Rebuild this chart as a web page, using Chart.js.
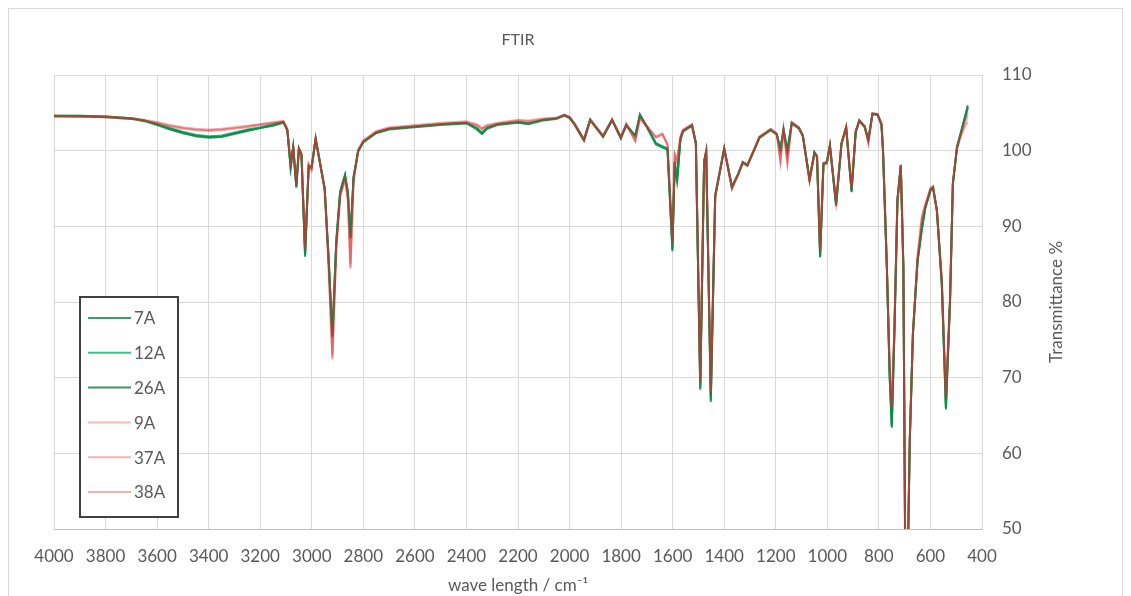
<!DOCTYPE html>
<html>
<head>
<meta charset="utf-8">
<title>FTIR</title>
<script src="https://cdn.jsdelivr.net/npm/chart.js@4.4.1/dist/chart.umd.min.js"></script>
<style>
  html, body { margin: 0; padding: 0; background: #ffffff; }
  #wrap { width: 1131px; height: 596px; }
</style>
</head>
<body>
<div id="wrap"><canvas id="ftirChart" width="1131" height="596"></canvas></div>
<script>
// wavenumbers (cm-1), shared by every sample
const wavenumber = [
  4000, 3900, 3800, 3700, 3650, 3600, 3550, 3500, 3450, 3400,
  3350, 3300, 3250, 3200, 3150, 3110, 3095, 3082, 3072, 3060,
  3050, 3040, 3026, 3012, 3001, 2985, 2950, 2935, 2920, 2905,
  2890, 2871, 2860, 2850, 2838, 2820, 2800, 2750, 2700, 2600,
  2500, 2400, 2360, 2340, 2320, 2280, 2200, 2160, 2100, 2050,
  2020, 2000, 1980, 1944, 1920, 1870, 1835, 1801, 1780, 1745,
  1727, 1700, 1665, 1640, 1620, 1601, 1592, 1583, 1570, 1560,
  1525, 1510, 1493, 1478, 1470, 1452, 1435, 1400, 1370, 1345,
  1328, 1310, 1263, 1220, 1196, 1182, 1170, 1155, 1138, 1110,
  1095, 1069, 1050, 1040, 1028, 1015, 1002, 990, 966, 945,
  927, 906, 890, 876, 855, 841, 825, 805, 790, 784,
  769, 758, 750, 740, 728, 715, 705, 697, 690, 680,
  668, 650, 633, 620, 600, 590, 575, 556, 540, 524,
  513, 497, 485, 466, 455
];

// transmittance (%) per sample
const t7A = [
  104.6, 104.6, 104.5, 104.3, 104.0, 103.5, 102.9, 102.4, 102.0, 101.8,
  101.9, 102.3, 102.7, 103.0, 103.4, 103.8, 102.8, 97.8, 100.5, 95.2,
  100.3, 99.5, 86.2, 98.0, 97.8, 101.6, 95.0, 86.0, 75.5, 88.0,
  94.5, 96.8, 94.5, 88.5, 96.5, 100.0, 101.2, 102.4, 102.9, 103.2,
  103.5, 103.7, 103.0, 102.3, 103.0, 103.5, 103.8, 103.6, 104.1, 104.3,
  104.7, 104.4, 103.5, 101.4, 104.1, 101.9, 104.1, 101.7, 103.4, 102.0,
  104.7, 103.2, 101.0, 100.6, 100.3, 86.9, 98.5, 96.0, 101.5, 102.6,
  103.4, 101.0, 68.6, 98.6, 99.9, 67.0, 94.0, 100.3, 95.2, 97.0,
  98.5, 98.1, 101.8, 102.8, 102.2, 100.2, 102.8, 100.0, 103.7, 103.0,
  102.0, 96.2, 99.8, 99.3, 86.0, 98.3, 98.5, 100.7, 92.8, 101.0,
  103.1, 94.6, 102.5, 104.0, 103.2, 101.5, 104.9, 104.8, 103.5, 100.0,
  84.6, 70.0, 63.6, 75.8, 93.5, 98.1, 84.6, 42.0, 42.0, 62.0,
  75.8, 85.5, 89.8, 92.5, 94.8, 95.2, 92.1, 82.5, 66.0, 80.2,
  95.7, 100.5, 102.0, 104.4, 105.8
];
const t12A = [
  104.6, 104.6, 104.5, 104.3, 104.0, 103.5, 103.0, 102.5, 102.1, 101.9,
  102.0, 102.4, 102.8, 103.1, 103.5, 103.8, 102.8, 97.9, 100.5, 95.3,
  100.3, 99.5, 86.4, 98.0, 97.8, 101.6, 95.0, 86.2, 75.8, 88.2,
  94.6, 96.8, 94.6, 88.8, 96.5, 100.0, 101.2, 102.4, 102.9, 103.2,
  103.5, 103.7, 103.0, 102.4, 103.0, 103.5, 103.8, 103.6, 104.1, 104.3,
  104.6, 104.4, 103.5, 101.5, 104.1, 102.0, 104.1, 101.8, 103.4, 102.0,
  104.6, 103.2, 100.9, 100.5, 100.2, 87.3, 98.6, 96.3, 101.5, 102.6,
  103.4, 101.0, 69.0, 98.6, 99.9, 67.4, 94.1, 100.3, 95.3, 97.0,
  98.5, 98.1, 101.8, 102.8, 102.2, 100.2, 102.8, 100.0, 103.7, 103.0,
  102.0, 96.3, 99.8, 99.3, 86.3, 98.3, 98.5, 100.7, 92.9, 101.0,
  103.1, 94.7, 102.5, 104.0, 103.2, 101.5, 104.9, 104.8, 103.5, 100.0,
  84.6, 70.3, 64.0, 75.8, 93.5, 98.1, 84.6, 42.0, 42.0, 62.0,
  75.8, 85.5, 89.9, 92.5, 94.8, 95.2, 92.1, 82.5, 66.3, 80.2,
  95.7, 100.5, 102.0, 104.3, 105.6
];
const t26A = [
  104.5, 104.5, 104.4, 104.2, 103.9, 103.4, 102.8, 102.3, 101.9, 101.7,
  101.8, 102.2, 102.6, 103.0, 103.3, 103.7, 102.7, 97.7, 100.4, 95.1,
  100.2, 99.4, 86.0, 97.9, 97.7, 101.5, 94.9, 85.8, 75.3, 87.8,
  94.4, 96.7, 94.4, 88.4, 96.4, 99.9, 101.1, 102.3, 102.8, 103.1,
  103.4, 103.6, 102.8, 102.2, 102.9, 103.4, 103.7, 103.5, 104.0, 104.2,
  104.7, 104.3, 103.4, 101.3, 104.0, 101.8, 104.0, 101.6, 103.3, 101.9,
  104.8, 103.1, 100.8, 100.4, 100.1, 86.7, 98.4, 95.8, 101.4, 102.5,
  103.3, 100.9, 68.4, 98.5, 99.8, 66.8, 93.9, 100.2, 95.1, 96.9,
  98.4, 98.0, 101.7, 102.7, 102.1, 100.1, 102.7, 99.9, 103.6, 102.9,
  101.9, 96.1, 99.7, 99.2, 85.9, 98.2, 98.4, 100.6, 92.7, 100.9,
  103.0, 94.5, 102.4, 103.9, 103.1, 101.4, 104.8, 104.7, 103.4, 99.9,
  84.5, 69.8, 63.4, 75.6, 93.4, 98.0, 84.5, 42.0, 42.0, 62.0,
  75.7, 85.3, 89.6, 92.4, 94.7, 95.1, 92.0, 82.3, 65.8, 80.0,
  95.6, 100.4, 101.9, 104.5, 106.0
];
const t9A = [
  104.6, 104.5, 104.5, 104.3, 104.0, 103.7, 103.3, 103.0, 102.8, 102.7,
  102.8, 103.0, 103.2, 103.5, 103.7, 103.9, 102.8, 98.5, 100.5, 95.5,
  100.3, 99.5, 87.0, 98.2, 97.5, 101.6, 95.0, 85.0, 72.6, 87.0,
  94.0, 96.3, 93.5, 84.6, 96.0, 100.0, 101.3, 102.5, 103.0, 103.3,
  103.6, 103.8, 103.4, 102.9, 103.3, 103.6, 104.0, 103.9, 104.2, 104.3,
  104.7, 104.4, 103.5, 101.4, 104.1, 101.9, 104.1, 101.7, 103.5, 101.3,
  104.3, 103.2, 101.8, 102.2, 100.8, 88.0, 99.5, 98.6, 101.8, 102.7,
  103.4, 101.0, 69.5, 98.6, 99.9, 68.1, 94.0, 100.3, 95.0, 97.0,
  98.4, 98.1, 101.8, 102.8, 102.2, 98.6, 102.8, 98.4, 103.7, 103.0,
  102.0, 96.0, 99.6, 99.2, 86.8, 98.3, 98.3, 100.7, 93.3, 101.0,
  103.1, 95.0, 102.5, 104.0, 103.2, 101.0, 104.9, 104.8, 103.5, 100.0,
  84.6, 71.0, 66.0, 76.5, 93.5, 98.1, 84.6, 42.0, 42.0, 62.0,
  75.8, 86.0, 91.2, 92.8, 95.0, 95.2, 92.1, 83.0, 67.5, 80.5,
  95.7, 100.3, 101.8, 103.5, 104.6
];
const t37A = [
  104.6, 104.5, 104.5, 104.3, 104.1, 103.8, 103.4, 103.1, 102.9, 102.8,
  102.9, 103.1, 103.3, 103.5, 103.8, 103.9, 102.9, 98.6, 100.6, 95.7,
  100.4, 99.6, 87.2, 98.3, 97.6, 101.7, 95.1, 85.3, 73.0, 87.3,
  94.1, 96.4, 93.7, 85.0, 96.1, 100.1, 101.4, 102.6, 103.1, 103.4,
  103.7, 103.9, 103.5, 103.0, 103.4, 103.7, 104.1, 104.0, 104.3, 104.4,
  104.8, 104.5, 103.6, 101.5, 104.2, 102.0, 104.2, 101.8, 103.6, 101.4,
  104.4, 103.3, 101.9, 102.3, 100.9, 88.3, 99.6, 98.8, 101.9, 102.8,
  103.5, 101.1, 69.8, 98.7, 100.0, 68.4, 94.2, 100.4, 95.1, 97.1,
  98.5, 98.2, 101.9, 102.9, 102.3, 98.8, 102.9, 98.6, 103.8, 103.1,
  102.1, 96.2, 99.7, 99.3, 87.0, 98.4, 98.4, 100.8, 93.5, 101.1,
  103.2, 95.2, 102.6, 104.1, 103.3, 101.2, 105.0, 104.9, 103.6, 100.1,
  84.7, 71.3, 66.4, 76.8, 93.6, 98.2, 84.7, 42.0, 42.0, 62.0,
  75.9, 86.1, 91.4, 92.9, 95.1, 95.3, 92.2, 83.2, 67.8, 80.7,
  95.8, 100.2, 101.6, 103.2, 103.8
];
const t38A = [
  104.5, 104.5, 104.4, 104.2, 104.0, 103.6, 103.2, 102.9, 102.7, 102.6,
  102.7, 102.9, 103.1, 103.4, 103.6, 103.8, 102.7, 98.4, 100.4, 95.4,
  100.2, 99.4, 86.9, 98.1, 97.4, 101.5, 94.9, 84.8, 72.4, 86.8,
  93.9, 96.2, 93.4, 84.4, 95.9, 99.9, 101.2, 102.4, 102.9, 103.2,
  103.5, 103.7, 103.3, 102.8, 103.2, 103.5, 103.9, 103.8, 104.1, 104.2,
  104.6, 104.3, 103.4, 101.3, 104.0, 101.8, 104.0, 101.6, 103.4, 101.2,
  104.2, 103.1, 101.7, 102.1, 100.7, 87.8, 99.4, 98.4, 101.7, 102.6,
  103.3, 100.9, 69.3, 98.5, 99.8, 67.9, 93.9, 100.2, 94.9, 96.9,
  98.3, 98.0, 101.7, 102.7, 102.1, 98.5, 102.7, 98.3, 103.6, 102.9,
  101.9, 95.9, 99.5, 99.1, 86.6, 98.2, 98.2, 100.6, 93.2, 100.9,
  103.0, 94.9, 102.4, 103.9, 103.1, 100.9, 104.8, 104.7, 103.4, 99.9,
  84.5, 70.8, 65.8, 76.3, 93.4, 98.0, 84.5, 42.0, 42.0, 62.0,
  75.7, 85.9, 91.0, 92.7, 94.9, 95.1, 92.0, 82.8, 67.2, 80.3,
  95.6, 100.4, 101.9, 104.0, 105.0
];

const sampleNames = ["7A", "12A", "26A", "9A", "37A", "38A"];
const sampleValues = [t7A, t12A, t26A, t9A, t37A, t38A];
const sampleColors = [
  "rgba(0, 140, 70, 0.8)",
  "rgba(0, 170, 100, 0.75)",
  "rgba(20, 120, 60, 0.8)",
  "rgba(235, 50, 60, 0.34)",
  "rgba(215, 35, 35, 0.34)",
  "rgba(195, 35, 30, 0.34)"
];

const xTickValues = [4000, 3800, 3600, 3400, 3200, 3000, 2800, 2600, 2400, 2200,
                     2000, 1800, 1600, 1400, 1200, 1000, 800, 600, 400];
const yTickValues = [50, 60, 70, 80, 90, 100, 110];

const textColor = "#595959";
const fontFamily = "Lato, 'Open Sans', sans-serif";

const datasets = sampleNames.map((name, k) => ({
  label: name,
  data: wavenumber.map((w, i) => ({ x: w, y: sampleValues[k][i] })),
  borderColor: sampleColors[k],
  borderWidth: 2,
  pointRadius: 0,
  tension: 0,
  // red samples drawn over the green ones
  order: k < 3 ? 1 : 0
}));

// title, rotated y title, outer frame and the boxed legend
const decorations = {
  id: "decorations",
  afterDraw(chart) {
    const ctx = chart.ctx;
    const area = chart.chartArea;
    ctx.save();

    ctx.strokeStyle = "#d9d9d9";
    ctx.lineWidth = 1;
    ctx.strokeRect(8.5, 8.5, 1114, 600);

    ctx.fillStyle = textColor;
    ctx.font = "16px " + fontFamily;
    ctx.textAlign = "center";
    ctx.textBaseline = "middle";
    ctx.fillText("FTIR", (area.left + area.right) / 2, 40);

    ctx.save();
    ctx.translate(1057, (area.top + area.bottom) / 2);
    ctx.rotate(-Math.PI / 2);
    ctx.font = "17px " + fontFamily;
    ctx.fillText("Transmittance %", 0, 0);
    ctx.restore();

    // legend
    const boxX = 80, boxY = 297, boxW = 98, boxH = 220;
    ctx.fillStyle = "#ffffff";
    ctx.fillRect(boxX, boxY, boxW, boxH);
    ctx.strokeStyle = "#404040";
    ctx.lineWidth = 2;
    ctx.strokeRect(boxX, boxY, boxW, boxH);
    ctx.font = "17px " + fontFamily;
    ctx.textAlign = "left";
    chart.data.datasets.forEach((ds, i) => {
      const y = 318 + i * 34.8;
      ctx.strokeStyle = ds.borderColor;
      ctx.lineWidth = 2;
      ctx.beginPath();
      ctx.moveTo(88, y);
      ctx.lineTo(131, y);
      ctx.stroke();
      ctx.fillStyle = textColor;
      ctx.fillText(ds.label, 134, y + 1);
    });
    ctx.restore();
  }
};

new Chart(document.getElementById("ftirChart"), {
  type: "line",
  data: { datasets: datasets },
  plugins: [decorations],
  options: {
    responsive: false,
    animation: false,
    layout: { padding: { left: 54, top: 75, right: 0, bottom: 0 } },
    plugins: {
      legend: { display: false },
      tooltip: { enabled: false }
    },
    scales: {
      x: {
        type: "linear",
        reverse: true,
        min: 400,
        max: 4000,
        afterBuildTicks: (scale) => { scale.ticks = xTickValues.map(v => ({ value: v })); },
        afterFit: (scale) => { scale.height = 67; },
        grid: { color: "#d9d9d9", drawTicks: false },
        border: { color: "#bfbfbf" },
        ticks: {
          padding: 17,
          color: textColor,
          maxRotation: 0,
          autoSkip: false,
          callback: (v) => String(v),
          font: { family: fontFamily, size: 17 }
        },
        title: {
          display: true,
          text: "wave length / cm\u207B\u00B9",
          color: textColor,
          font: { family: fontFamily, size: 17 },
          padding: { top: 2, bottom: 0 }
        }
      },
      y: {
        position: "right",
        min: 50,
        max: 110,
        afterBuildTicks: (scale) => { scale.ticks = yTickValues.map(v => ({ value: v })); },
        afterFit: (scale) => { scale.width = 149; },
        grid: { color: "#d9d9d9", drawTicks: false },
        border: { color: "#d9d9d9" },
        ticks: {
          padding: 20,
          color: textColor,
          font: { family: fontFamily, size: 17 }
        }
      }
    }
  }
});
</script>
</body>
</html>
